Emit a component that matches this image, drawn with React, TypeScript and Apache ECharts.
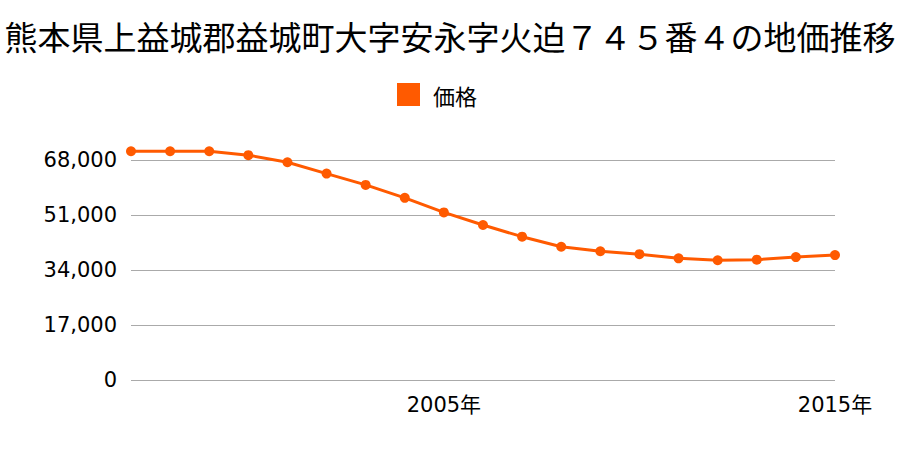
import React, { useEffect, useRef } from "react";
import * as echarts from "echarts";

const years = ["1997","1998","1999","2000","2001","2002","2003","2004","2005","2006","2007","2008","2009","2010","2011","2012","2013","2014","2015"];
const prices = [70700,70700,70700,69500,67300,63800,60300,56300,51800,47900,44300,41200,39800,38900,37600,37000,37200,38000,38600];
const shownYears = ["2005", "2015"];
const titleText = "熊本県上益城郡益城町大字安永字火迫７４５番４の地価推移";
const seriesName = "価格";

const FONT = "'Noto Sans CJK JP', 'Noto Sans', sans-serif";
const NUMFONT = "'DejaVu Sans', 'Noto Sans CJK JP', sans-serif";

export default function App() {
  const ref = useRef<HTMLDivElement>(null);
  useEffect(() => {
    document.body.style.margin = "0";
    const chart = echarts.init(ref.current!, null, { renderer: "svg" });
    chart.setOption({
      animation: false,
      backgroundColor: "#ffffff",
      title: {
        text: titleText,
        left: "center",
        top: 14,
        textStyle: { fontFamily: FONT, fontSize: 33, fontWeight: "normal", color: "#000" },
      },
      legend: {
        data: [seriesName],
        top: 78,
        left: 392,
        icon: "rect",
        itemWidth: 23,
        itemHeight: 23,
        textStyle: { fontFamily: FONT, fontSize: 22, color: "#000", padding: [0, 0, 0, 8] },
      },
      grid: { left: 131, right: 65, top: 160, bottom: 70, containLabel: false },
      xAxis: {
        type: "category",
        data: years,
        boundaryGap: false,
        axisLine: { show: false },
        axisTick: { show: false },
        splitLine: { show: false },
        axisLabel: {
          interval: (i: number, v: string) => shownYears.includes(v),
          formatter: (v: string) => v + "年",
          fontFamily: NUMFONT,
          fontSize: 21,
          color: "#000",
          margin: 14,
        },
      },
      yAxis: {
        type: "value",
        min: 0,
        max: 68000,
        interval: 17000,
        axisLine: { show: false },
        axisTick: { show: false },
        splitLine: { lineStyle: { color: "#aaaaaa", width: 1 } },
        axisLabel: {
          fontFamily: NUMFONT,
          fontSize: 21,
          color: "#000",
          margin: 14,
          formatter: (v: number) => v.toLocaleString("en-US"),
        },
      },
      series: [
        {
          name: seriesName,
          type: "line",
          data: prices,
          clip: false,
          symbol: "circle",
          symbolSize: 10,
          itemStyle: { color: "#ff5a00" },
          lineStyle: { color: "#ff5a00", width: 3 },
        },
      ],
    });
    return () => chart.dispose();
  }, []);
  return <div ref={ref} style={{ width: 900, height: 450 }} />;
}
